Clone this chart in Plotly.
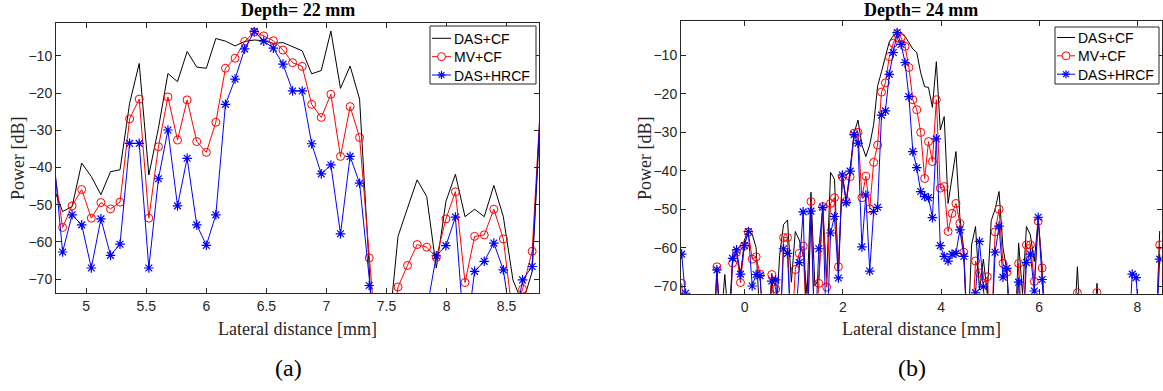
import plotly.graph_objects as go

# ---------------- data : panel (a) depth 22 mm ----------------
xa = [4.723, 4.803, 4.882, 4.962, 5.042, 5.122, 5.202, 5.281, 5.361, 5.441,
      5.521, 5.601, 5.680, 5.760, 5.840, 5.920, 6.000, 6.079, 6.159, 6.239,
      6.319, 6.399, 6.478, 6.558, 6.638, 6.718, 6.798, 6.877, 6.957, 7.037,
      7.117, 7.197, 7.276, 7.356, 7.436, 7.516, 7.596, 7.675, 7.755, 7.835,
      7.915, 7.995, 8.074, 8.154, 8.234, 8.314, 8.394, 8.473, 8.553, 8.633,
      8.713, 8.793]
das_cf_a = [-45, -51.8, -50.5, -38.8, -42.4, -47.3, -41.1, -40.6, -22.7, -12.0,
            -42.0, -29.4, -14.7, -16.9, -8.8, -13.0, -13.3, -5.3, -6.0, -7.3,
            -6.1, -5.7, -5.9, -6.6, -6.4, -7.6, -8.6, -14.8, -13.9, -3.3,
            -18.7, -12.7, -21.6, -67, -120, -85, -58.5, -50.9, -43.3, -47.8,
            -67.0, -49.1, -41.8, -53.2, -51.2, -53.2, -44.8, -53.2, -70.2, -76.5,
            -68, -18]
mv_cf_a = [-38, -56.1, -50.3, -45.9, -53.6, -49.4, -51.1, -49.3, -26.9, -21.6,
           -53.6, -34.4, -21.0, -32.6, -21.8, -33.0, -35.9, -27.8, -13.3, -10.6,
           -6.1, -3.6, -4.6, -5.9, -8.4, -11.8, -12.8, -23.0, -26.5, -20.3,
           -37.0, -23.6, -31.9, -64.3, -95, -90, -72.1, -66.3, -60.7, -61.4,
           -64.2, -53.8, -46.5, -70.9, -58.5, -58.1, -51.2, -59.2, -80.4, -72.7,
           -62.5, -16.5]
das_hrcf_a = [-35, -62.7, -52.7, -55.4, -67.0, -53.8, -63.6, -60.6, -33.5, -33.5,
              -67.0, -43.0, -29.9, -50.3, -37.5, -55.4, -60.9, -52.7, -23.0, -16.2,
              -8.1, -3.4, -6.0, -7.9, -12.2, -19.4, -19.4, -33.6, -41.7, -39.3,
              -57.8, -37.0, -44.2, -71.7, -95, -100, -100, -100, -100, -78.3,
              -63.7, -61.0, -53.3, -88, -67.9, -65.2, -60.3, -67.5, -85, -70.2,
              -66.6, -16.5]

# ---------------- data : panel (b) depth 24 mm ----------------
xb = [-1.283, -1.203, -1.123, -1.044, -0.964, -0.884, -0.804, -0.724, -0.645, -0.565,
      -0.485, -0.405, -0.325, -0.246, -0.166, -0.086, -0.006, 0.074, 0.153, 0.233,
      0.313, 0.393, 0.473, 0.552, 0.632, 0.712, 0.792, 0.872, 0.951, 1.031,
      1.111, 1.191, 1.271, 1.350, 1.430, 1.510, 1.590, 1.670, 1.749, 1.829,
      1.909, 1.989, 2.069, 2.148, 2.228, 2.308, 2.388, 2.468, 2.547, 2.627,
      2.707, 2.787, 2.867, 2.946, 3.026, 3.106, 3.186, 3.266, 3.345, 3.425,
      3.505, 3.585, 3.665, 3.744, 3.824, 3.904, 3.984, 4.064, 4.143, 4.223,
      4.303, 4.383, 4.463, 4.542, 4.622, 4.702, 4.782, 4.862, 4.941, 5.021,
      5.101, 5.181, 5.261, 5.340, 5.420, 5.500, 5.580, 5.660, 5.739, 5.819,
      5.899, 5.979, 6.059, 6.138, 6.218, 6.298, 6.378, 6.458, 6.537, 6.617,
      6.697, 6.777, 6.857, 6.936, 7.016, 7.096, 7.176, 7.256, 7.335, 7.415,
      7.495, 7.575, 7.655, 7.734, 7.814, 7.894, 7.974, 8.054, 8.133, 8.213,
      8.293, 8.373, 8.453]
das_cf_b = [-80, -85, -85, -85, -85, -85, -85, -85, -85, -67,
            -80, -67, -80, -63, -61, -68, -58, -55.5, -56.5, -60,
            -80, -85, -85, -66.7, -80, -62, -54, -52.8, -69, -55.8,
            -58, -62, -72, -45.6, -70, -68, -49, -68, -40.4, -42.2,
            -66, -40.9, -48, -40, -30.2, -26.8, -33.3, -36.3, -33.3, -28,
            -18, -14.2, -10.3, -6.4, -4.8, -3.9, -4.2, -5.0, -6.6, -8.3,
            -9.2, -14.5, -18.1, -18.3, -23.5, -11.6, -29.4, -25.9, -48.5, -41.1,
            -35.0, -52.0, -60.6, -85, -59.3, -54.5, -71, -63, -72, -53,
            -50, -45.4, -60, -66, -85, -85, -58.8, -72, -54.5, -56.7,
            -63.6, -52.4, -65.0, -85, -85, -85, -85, -85, -85, -85,
            -85, -65.0, -85, -85, -85, -85, -69.3, -85, -85, -85,
            -85, -85, -85, -85, -85, -85, -85, -85, -85, -85,
            -85, -85, -55.7]
mv_cf_b = [-69.3, -85, -85, -85, -85, -85, -85, -85, -85, -65.0,
           -85, -85, -85, -64.0, -61.2, -69.1, -59.5, -56.0, -63.0, -62.4,
           -66.9, -85, -85, -67.0, -70.8, -85, -57.4, -57.4, -85, -65.7,
           -61.5, -59.6, -85, -48.0, -85, -69.3, -49.3, -70.3, -48.5, -47.0,
           -65.0, -41.6, -47.9, -41.5, -30.2, -30.0, -47.0, -41.4, -49.9, -37.8,
           -33.3, -19.5, -17.1, -10.3, -6.8, -4.3, -5.3, -7.6, -13.1, -21.5,
           -24.1, -30.0, -42.0, -32.4, -37.6, -21.5, -44.5, -44.1, -55.8, -51.1,
           -48.5, -53.7, -61.2, -85, -85, -63.5, -66.6, -69.3, -67.6, -85,
           -55.9, -50.0, -64.1, -66.4, -85, -85, -64.1, -85, -59.3, -59.3,
           -68.8, -53.1, -65.3, -85, -85, -85, -85, -85, -85, -85,
           -85, -71.8, -85, -85, -85, -85, -71.7, -85, -85, -85,
           -85, -85, -85, -85, -85, -85, -85, -85, -85, -85,
           -85, -85, -59.3]
das_hrcf_b = [-61.7, -71.9, -85, -85, -85, -85, -85, -85, -85, -65.8,
              -85, -85, -85, -62.8, -60.6, -66.9, -59.5, -55.8, -70.0, -67.0,
              -67.3, -85, -85, -68.7, -68.4, -85, -60.3, -61.5, -85, -80,
              -63.9, -50.7, -85, -50.5, -85, -60.3, -49.5, -85, -56.2, -51.9,
              -67.9, -41.1, -48.3, -40.1, -30.6, -32.8, -59.8, -46.3, -66.1, -50.6,
              -49.5, -25.5, -24.4, -14.9, -9.2, -4.0, -7.1, -11.8, -20.7, -35.0,
              -39.2, -45.4, -46.7, -47.0, -52.2, -31.7, -59.5, -62.3, -63.5, -61.7,
              -61.5, -55.4, -62.3, -85, -85, -71.8, -58.4, -70.2, -85, -85,
              -61.2, -54.4, -67.7, -65.4, -85, -85, -69.0, -85, -63.9, -61.7,
              -71.3, -52.1, -68.3, -85, -85, -85, -85, -85, -85, -85,
              -85, -85, -85, -85, -85, -85, -85, -85, -85, -85,
              -85, -85, -85, -85, -85, -66.9, -67.8, -85, -85, -85,
              -85, -85, -63.0]

names = ["DAS+CF", "MV+CF", "DAS+HRCF"]
colors = ["#000000", "#ff0000", "#0000ff"]
titles = ["Depth= 22 mm", "Depth= 24 mm"]
xlabel = "Lateral distance [mm]"
ylabel = "Power [dB]"
panel_tags = ["(a)", "(b)"]
xticks_a = [5, 5.5, 6, 6.5, 7, 7.5, 8, 8.5]
xticks_b = [0, 2, 4, 6, 8]
yticks = [-70, -60, -50, -40, -30, -20, -10]

XR_A = [4.748, 8.77]
XR_B = [-1.297, 8.49]

W, H = 1163, 391
SANS = "Liberation Sans, Arial, sans-serif"
SERIF = "Liberation Serif, Times New Roman, serif"
AX = "#262626"

fig = go.Figure()

MARKERS = [None,
           dict(symbol="circle-open", size=8, color=colors[1],
                line=dict(width=1, color=colors[1])),
           dict(symbol="asterisk-open", size=8, color=colors[2],
                line=dict(width=1.2, color=colors[2]))]

def add_panel(x, ys, xa_name, ya_name, xr):
    for i, (nm, y) in enumerate(zip(names, ys)):
        fig.add_trace(go.Scatter(x=x, y=y, name=nm, xaxis=xa_name, yaxis=ya_name,
                                 mode="lines", line=dict(color=colors[i], width=1),
                                 showlegend=False, hoverinfo="skip"))
        if MARKERS[i] is not None:
            # markers only for samples whose centre lies inside the axes (as MATLAB does)
            mx = [a for a in x if xr[0] <= a <= xr[1]]
            my = [b for a, b in zip(x, y) if xr[0] <= a <= xr[1]]
            fig.add_trace(go.Scatter(x=mx, y=my, name=nm, xaxis=xa_name, yaxis=ya_name,
                                     mode="markers", marker=MARKERS[i],
                                     showlegend=False, hoverinfo="skip"))

add_panel(xa, [das_cf_a, mv_cf_a, das_hrcf_a], "x", "y", XR_A)
add_panel(xb, [das_cf_b, mv_cf_b, das_hrcf_b], "x2", "y2", XR_B)

def px_x(p):
    return p / W

def px_y(p):
    return 1 - p / H

axis_common = dict(showline=True, linecolor=AX, linewidth=1, mirror="ticks",
                   ticks="inside", ticklen=5, tickcolor=AX, tickwidth=1,
                   showgrid=False, zeroline=False,
                   tickfont=dict(family=SANS, size=14, color=AX))

fig.update_layout(
    width=W, height=H, margin=dict(l=0, r=0, t=0, b=0),
    paper_bgcolor="white", plot_bgcolor="white",
    showlegend=False,
    xaxis=dict(domain=[px_x(56), px_x(539)], range=XR_A, anchor="y",
               tickvals=xticks_a, ticktext=[str(v) for v in xticks_a], **axis_common),
    yaxis=dict(domain=[px_y(293.3), px_y(22.7)], range=[-73.8, -1.05], anchor="x",
               tickvals=yticks, **axis_common),
    xaxis2=dict(domain=[px_x(681), px_x(1161.5)], range=XR_B, anchor="y2",
                tickvals=xticks_b, **axis_common),
    yaxis2=dict(domain=[px_y(293.7), px_y(21)], range=[-72.0, -1.0], anchor="x2",
                tickvals=yticks, **axis_common),
)

shapes = []
ann = []

# legend boxes drawn at pixel positions (layout only, no data)
def draw_legend(box, line_x, text_x, rows):
    x0, y0, x1, y1 = box
    shapes.append(dict(type="rect", xref="paper", yref="paper",
                       x0=px_x(x0), x1=px_x(x1), y0=px_y(y1), y1=px_y(y0),
                       line=dict(color=AX, width=1), fillcolor="white", layer="above"))
    for i, ry in enumerate(rows):
        c = colors[i]
        shapes.append(dict(type="line", xref="paper", yref="paper",
                           x0=px_x(line_x[0]), x1=px_x(line_x[1]),
                           y0=px_y(ry), y1=px_y(ry),
                           line=dict(color=c, width=1), layer="above"))
        mx = (line_x[0] + line_x[1]) / 2
        r = 4
        if i == 1:
            shapes.append(dict(type="circle", xref="paper", yref="paper",
                               x0=px_x(mx - r), x1=px_x(mx + r),
                               y0=px_y(ry + r), y1=px_y(ry - r),
                               line=dict(color=c, width=1), fillcolor="white",
                               layer="above"))
        if i == 2:
            d = r * 0.72
            for (dx, dy) in [(r, 0), (0, r), (d, d), (d, -d)]:
                shapes.append(dict(type="line", xref="paper", yref="paper",
                                   x0=px_x(mx - dx), x1=px_x(mx + dx),
                                   y0=px_y(ry - dy), y1=px_y(ry + dy),
                                   line=dict(color=c, width=1.2), layer="above"))
        ann.append(dict(text=names[i], x=px_x(text_x), y=px_y(ry + 0.5),
                        xref="paper", yref="paper", showarrow=False,
                        xanchor="left", yanchor="middle",
                        font=dict(family=SANS, size=14, color="#000000")))

draw_legend((430, 26, 536, 84), (432, 451), 452, [38.3, 56.7, 75.0])
draw_legend((1055, 27, 1159, 84), (1057, 1075), 1076, [37.5, 55.8, 74.2])

centers = [(56 + 539) / 2, (681 + 1161.5) / 2]
for i, cx in enumerate(centers):
    ann.append(dict(text="<b>" + titles[i] + "</b>", x=px_x(cx), y=px_y(10),
                    xref="paper", yref="paper", showarrow=False,
                    xanchor="center", yanchor="middle",
                    font=dict(family=SERIF, size=18, color="#000000")))
    ann.append(dict(text=xlabel, x=px_x(cx), y=px_y(329), xref="paper", yref="paper",
                    showarrow=False, xanchor="center", yanchor="middle",
                    font=dict(family=SERIF, size=18, color=AX)))
ylab_x = [18, 645]
for i, lx in enumerate(ylab_x):
    ann.append(dict(text=ylabel, x=px_x(lx), y=px_y(158), xref="paper", yref="paper",
                    showarrow=False, xanchor="center", yanchor="middle", textangle=-90,
                    font=dict(family=SERIF, size=18, color=AX)))
tag_x = [288, 912]
for i, tx in enumerate(tag_x):
    ann.append(dict(text=panel_tags[i], x=px_x(tx), y=px_y(368), xref="paper", yref="paper",
                    showarrow=False, xanchor="center", yanchor="middle",
                    font=dict(family=SERIF, size=24, color="#000000")))
fig.update_layout(annotations=ann, shapes=shapes)

fig.write_html("out.html", config={"displayModeBar": False, "staticPlot": True},
               post_script="document.body.style.margin='0';document.body.style.overflow='hidden';")
